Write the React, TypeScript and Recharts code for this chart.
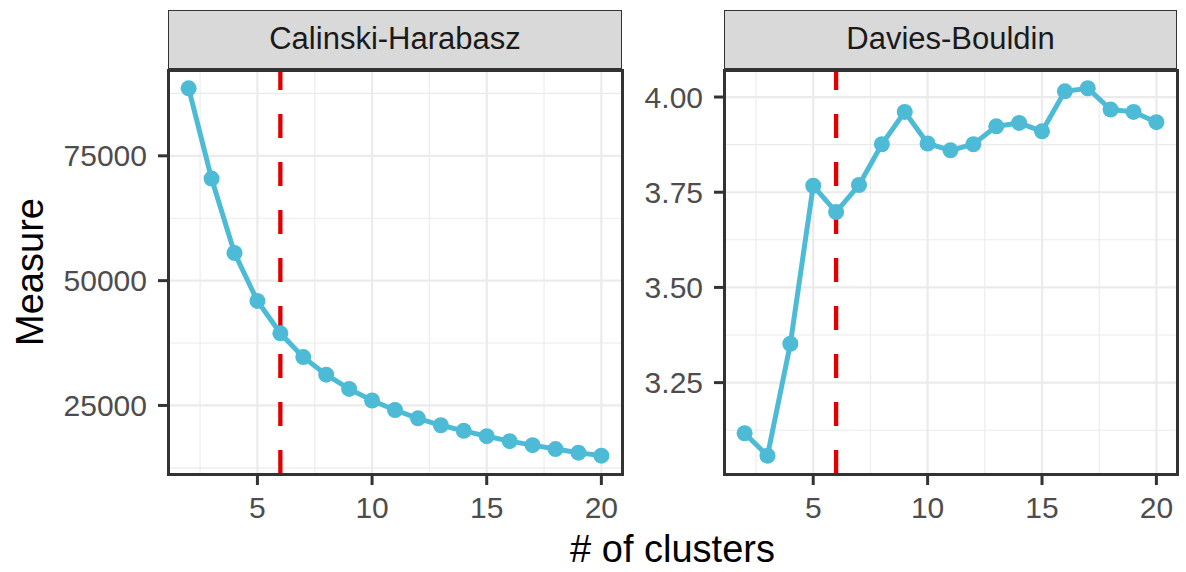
import { LineChart, Line, XAxis, YAxis, CartesianGrid, ReferenceLine } from 'recharts';

// values
const clusters = [2, 3, 4, 5, 6, 7, 8, 9, 10, 11, 12, 13, 14, 15, 16, 17, 18, 19, 20];
const calinski = [88520, 70440, 55540, 45940, 39450, 34680, 31160, 28320, 25990, 24090, 22420, 21030, 19910, 18840, 17850, 17050, 16260, 15540, 14950];
const davies = [3.117, 3.058, 3.352, 3.767, 3.698, 3.769, 3.876, 3.961, 3.878, 3.86, 3.876, 3.923, 3.932, 3.91, 4.015, 4.023, 3.967, 3.961, 3.934];

const xTicks = [5, 10, 15, 20];
const xMinor = [2.5, 7.5, 12.5, 17.5];
const chTicks = [25000, 50000, 75000];
const chMinor = [12500, 37500, 62500, 87500];
const dbTicks = [3.25, 3.5, 3.75, 4.0];
const dbMinor = [3.125, 3.375, 3.625, 3.875];

const optimalK = 6;

const xDomain: [number, number] = [1.1, 20.9];
const chDomain: [number, number] = [11270, 92190];
const dbDomain: [number, number] = [3.01, 4.071];

const BLUE = '#4DBBD5';
const RED = '#E00000';
const GRID = '#EBEBEB';
const FRAME = '#333333';
const FONT = '"Liberation Sans", Arial, Helvetica, sans-serif';

const rows = clusters.map((k, i) => ({ k, ch: calinski[i], db: davies[i] }));

const CHART_H = 530;
const PLOT_TOP = 70;
const PLOT_H = 404;

interface PanelProps {
  title: string;
  dataKey: string;
  left: number;
  width: number;
  yWidth: number;
  rightMargin: number;
  domain: [number, number];
  ticks: number[];
  minor: number[];
  fmt: (v: number) => string;
}

function Panel({ title, dataKey, left, width, yWidth, rightMargin, domain, ticks, minor, fmt }: PanelProps) {
  const plotLeft = left + yWidth;
  const plotW = width - yWidth - rightMargin;
  return (
    <>
      <div style={{ position: 'absolute', left, top: 0 }}>
        <LineChart
          width={width}
          height={CHART_H}
          data={rows}
          margin={{ top: PLOT_TOP, right: rightMargin, bottom: 0, left: 0 }}
        >
          <CartesianGrid stroke={GRID} strokeWidth={1.1} horizontalValues={minor} verticalValues={xMinor} />
          <CartesianGrid stroke={GRID} strokeWidth={2.2} />
          <XAxis
            dataKey="k"
            type="number"
            domain={xDomain}
            ticks={xTicks}
            allowDataOverflow
            interval={0}
            axisLine={false}
            tickLine={{ stroke: FRAME, strokeWidth: 3 }}
            tickSize={11}
            tickMargin={12}
            height={56}
            tick={{ fill: '#4D4D4D', fontSize: 30 }}
          />
          <YAxis
            type="number"
            domain={domain}
            ticks={ticks}
            allowDataOverflow
            interval={0}
            width={yWidth}
            axisLine={false}
            tickLine={{ stroke: FRAME, strokeWidth: 3 }}
            tickSize={10}
            tickMargin={11}
            tickFormatter={fmt}
            tick={{ fill: '#4D4D4D', fontSize: 30 }}
          />
          <ReferenceLine x={optimalK} stroke={RED} strokeWidth={4.3} strokeDasharray="24 24" zIndex={0} />
          <Line
            dataKey={dataKey}
            stroke={BLUE}
            strokeWidth={5}
            dot={{ r: 8, fill: BLUE, stroke: 'none' }}
            activeDot={false}
            isAnimationActive={false}
          />
        </LineChart>
      </div>
      {/* panel border */}
      <div
        style={{
          position: 'absolute',
          left: plotLeft - 1.5,
          top: PLOT_TOP - 1.5,
          width: plotW + 3,
          height: PLOT_H + 3,
          border: `3px solid ${FRAME}`,
          boxSizing: 'border-box',
          pointerEvents: 'none',
        }}
      />
      {/* facet strip */}
      <div
        style={{
          position: 'absolute',
          left: plotLeft,
          top: 9.5,
          width: plotW,
          height: PLOT_TOP - 9.5 - 1.5,
          background: '#D9D9D9',
          border: `1.2px solid ${FRAME}`,
          boxSizing: 'border-box',
          display: 'flex',
          alignItems: 'center',
          justifyContent: 'center',
          fontSize: 31,
          color: '#1A1A1A',
        }}
      >
        {title}
      </div>
    </>
  );
}

export default function App() {
  return (
    <div
      style={{
        position: 'absolute',
        left: 0,
        top: 0,
        width: 1186,
        height: 572,
        background: '#fff',
        fontFamily: FONT,
        overflow: 'hidden',
      }}
    >
      <Panel
        title="Calinski-Harabasz"
        dataKey="ch"
        left={0}
        width={640}
        yWidth={168}
        rightMargin={18}
        domain={chDomain}
        ticks={chTicks}
        minor={chMinor}
        fmt={(v) => String(v)}
      />
      <Panel
        title="Davies-Bouldin"
        dataKey="db"
        left={640}
        width={546}
        yWidth={84}
        rightMargin={9}
        domain={dbDomain}
        ticks={dbTicks}
        minor={dbMinor}
        fmt={(v) => v.toFixed(2)}
      />
      <svg width={1186} height={572} style={{ position: 'absolute', left: 0, top: 0, pointerEvents: 'none' }}>
        <text x={42.7} y={272} transform="rotate(-90 42.7 272)" textAnchor="middle" fontSize={38} fill="#000" fontFamily={FONT}>
          Measure
        </text>
        <text x={672.5} y={562} textAnchor="middle" fontSize={38} fill="#000" fontFamily={FONT}>
          # of clusters
        </text>
      </svg>
    </div>
  );
}
